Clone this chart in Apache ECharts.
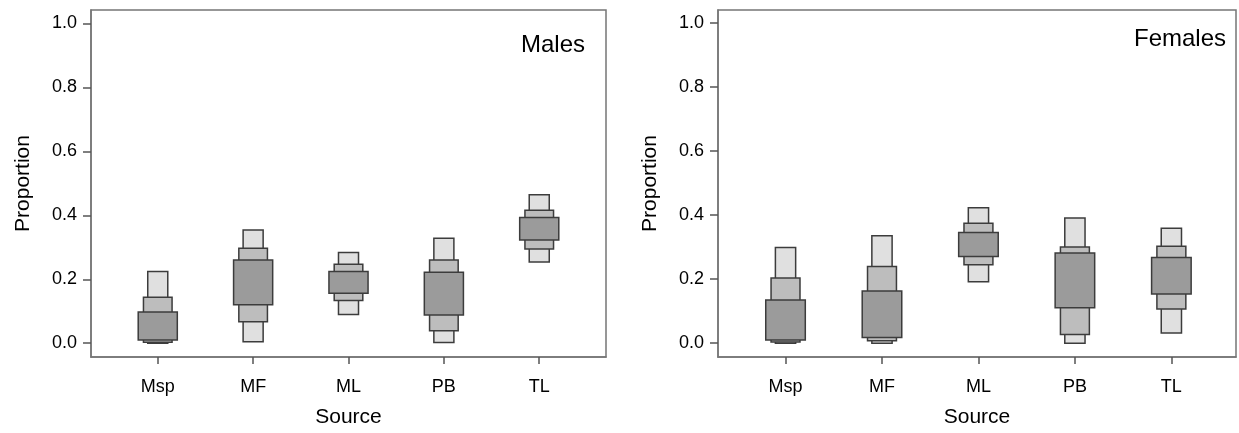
<!DOCTYPE html>
<html>
<head>
    <meta charset="utf-8" />
    <title>Proportion by source</title>
    <script src="https://cdn.jsdelivr.net/npm/echarts@6/dist/echarts.min.js"></script>
    <style>
        html, body { margin: 0; padding: 0; background: #fff; }
        #chart { width: 1239px; height: 433px; }
    </style>
</head>
<body>
    <div id="chart"></div>
    <script>
        // sources on the x axis
        const sources = ['Msp', 'MF', 'ML', 'PB', 'TL'];
        const yTicks = [0, 0.2, 0.4, 0.6, 0.8, 1.0];

        // males: credible intervals (95 / 75 / 50 %)
        const malesLo95 = [0.000, 0.005, 0.090, 0.002, 0.254];
        const malesHi95 = [0.224, 0.354, 0.284, 0.328, 0.464];
        const malesLo75 = [0.003, 0.067, 0.134, 0.039, 0.295];
        const malesHi75 = [0.144, 0.297, 0.247, 0.260, 0.416];
        const malesLo50 = [0.010, 0.120, 0.156, 0.088, 0.323];
        const malesHi50 = [0.098, 0.260, 0.224, 0.222, 0.393];

        // females
        const femalesLo95 = [0.000, 0.000, 0.192, 0.000, 0.032];
        const femalesHi95 = [0.299, 0.336, 0.423, 0.391, 0.359];
        const femalesLo75 = [0.004, 0.008, 0.245, 0.027, 0.107];
        const femalesHi75 = [0.204, 0.240, 0.375, 0.301, 0.303];
        const femalesLo50 = [0.010, 0.018, 0.271, 0.111, 0.154];
        const femalesHi50 = [0.135, 0.163, 0.346, 0.282, 0.268];

        const font = "'Liberation Sans', Arial, sans-serif";
        const frameColor = '#767676';
        const textColor = '#000';

        function pairs(lo, hi) {
            return sources.map((s, i) => [i, lo[i], hi[i]]);
        }

        // one box series, width in x-axis units
        function boxSeries(idx, lo, hi, w, fill) {
            return {
                type: 'custom',
                xAxisIndex: idx,
                yAxisIndex: idx,
                data: pairs(lo, hi),
                renderItem: function (params, api) {
                    const x = api.value(0);
                    const p0 = api.coord([x - w / 2, api.value(1)]);
                    const p1 = api.coord([x + w / 2, api.value(2)]);
                    return {
                        type: 'rect',
                        shape: { x: p0[0], y: p1[1], width: p1[0] - p0[0], height: p0[1] - p1[1] },
                        style: { fill: fill, stroke: '#3c3c3c', lineWidth: 1.5 }
                    };
                },
                silent: true
            };
        }

        function xAxis(idx, max) {
            return {
                type: 'value',
                gridIndex: idx,
                min: -0.7,
                max: max,
                name: 'Source',
                nameLocation: 'middle',
                nameGap: 50,
                nameTextStyle: { fontFamily: font, fontSize: 21, color: textColor },
                axisLine: { show: true, onZero: false, lineStyle: { color: frameColor, width: 1.5 } },
                axisTick: { show: true, length: 7, customValues: [0, 1, 2, 3, 4], lineStyle: { color: '#555', width: 1.5 } },
                axisLabel: {
                    customValues: [0, 1, 2, 3, 4],
                    formatter: v => sources[Math.round(v)],
                    margin: 21,
                    fontFamily: font, fontSize: 18, color: textColor
                },
                splitLine: { show: false }
            };
        }

        function yAxis(idx, max) {
            return {
                type: 'value',
                gridIndex: idx,
                min: -0.043,
                max: max,
                name: 'Proportion',
                nameLocation: 'middle',
                nameGap: 57,
                nameTextStyle: { fontFamily: font, fontSize: 21, color: textColor },
                axisLine: { show: true, onZero: false, lineStyle: { color: frameColor, width: 1.5 } },
                axisTick: { show: true, length: 8, customValues: yTicks, lineStyle: { color: '#555', width: 1.5 } },
                axisLabel: {
                    customValues: yTicks,
                    formatter: v => v.toFixed(1),
                    margin: 14,
                    fontFamily: font, fontSize: 18, color: textColor
                },
                splitLine: { show: false }
            };
        }

        const myChart = echarts.init(document.getElementById('chart'));
        const option = {
            animation: false,
            grid: [
                { left: 91, top: 10, width: 515, height: 347, show: true, borderColor: frameColor, borderWidth: 1.5, backgroundColor: 'transparent' },
                { left: 718, top: 10, width: 518, height: 350, show: true, borderColor: frameColor, borderWidth: 1.5, backgroundColor: 'transparent' }
            ],
            xAxis: [xAxis(0, 4.7), xAxis(1, 4.67)],
            yAxis: [yAxis(0, 1.042), yAxis(1, 1.041)],
            graphic: [
                {
                    type: 'text', right: 1239 - 585, top: 33,
                    style: { text: 'Males', font: "24px " + font, fill: textColor }
                },
                {
                    type: 'text', right: 1239 - 1226, top: 27,
                    style: { text: 'Females', font: "24px " + font, fill: textColor }
                }
            ],
            series: [
                boxSeries(0, malesLo95, malesHi95, 0.21, '#e0e0e0'),
                boxSeries(0, malesLo75, malesHi75, 0.30, '#bdbdbd'),
                boxSeries(0, malesLo50, malesHi50, 0.41, '#9b9b9b'),
                boxSeries(1, femalesLo95, femalesHi95, 0.21, '#e0e0e0'),
                boxSeries(1, femalesLo75, femalesHi75, 0.30, '#bdbdbd'),
                boxSeries(1, femalesLo50, femalesHi50, 0.41, '#9b9b9b')
            ]
        };
        myChart.setOption(option);
    </script>
</body>
</html>
